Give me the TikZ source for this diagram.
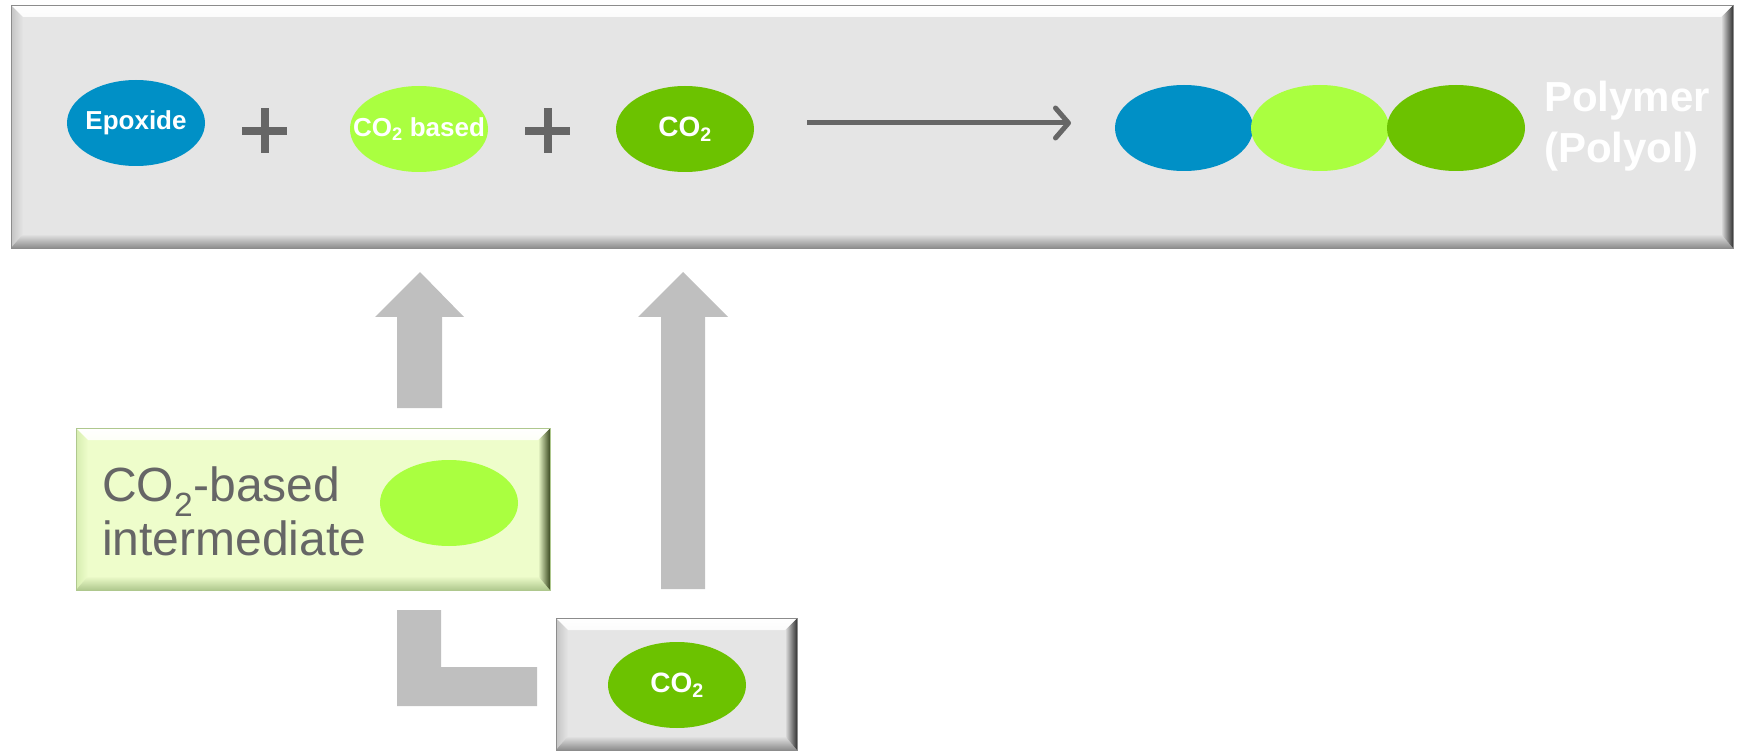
\documentclass[tikz,border=0pt]{standalone}
\usepackage{fontspec}
\setmainfont{Liberation Sans}
\usetikzlibrary{shapes.geometric,arrows.meta,calc}
\definecolor{boxgray}{HTML}{E5E5E5}
\definecolor{edgegray}{HTML}{8C8C8C}
\definecolor{leftgray}{HTML}{C4C4C4}
\definecolor{epoxblue}{HTML}{0090C6}
\definecolor{lightgreen}{HTML}{AAFF40}
\definecolor{darkgreen}{HTML}{6CC200}
\definecolor{intfill}{HTML}{EEFDCB}
\definecolor{intedge}{HTML}{AFC88E}
\definecolor{intleft}{HTML}{D6EDB0}
\definecolor{intright}{HTML}{3B4A22}
\definecolor{arrowgray}{HTML}{BFBFBF}
\definecolor{plusgray}{HTML}{666666}
\definecolor{textgray}{HTML}{666666}
\tikzset{
  blob/.style={ellipse, minimum width=138pt, minimum height=86pt, inner sep=0pt},
  lbl/.style={text=white, inner sep=0pt, font=\bfseries\fontsize{26}{30}\selectfont},
  lblco/.style={text=white, inner sep=0pt, font=\bfseries\fontsize{28}{32}\selectfont},
  panel/.style={rectangle, inner sep=0pt, outer sep=0pt, draw=black!30, line width=0.6pt},
  block/.style={fill=arrowgray},
  plusbar/.style={fill=plusgray},
}
% #1 node, #2 face, #3 left colour, #4 bottom colour, #5 right colour
\newcommand\bevelpanel[5]{%
  \shade[left color=#3, right color=#2] (#1.north west) -- ($(#1.north west)+(12,12)$) -- ($(#1.south west)+(12,-14)$) -- (#1.south west) -- cycle;
  \shade[top color=#2, bottom color=#4] ($(#1.south west)+(12,-14)$) -- ($(#1.south east)+(-12,-14)$) -- (#1.south east) -- (#1.south west) -- cycle;
  \shade[left color=#2, right color=#5] ($(#1.north east)+(-12,12)$) -- (#1.north east) -- (#1.south east) -- ($(#1.south east)+(-12,-14)$) -- cycle;
  \shade[top color=white, bottom color=white!85!#2] (#1.north west) -- (#1.north east) -- ($(#1.north east)+(-12,12)$) -- ($(#1.north west)+(12,12)$) -- cycle;
  \draw[#4, line width=0.6pt] (#1.north west) rectangle (#1.south east);
}
\begin{document}
\begin{tikzpicture}[x=1pt,y=-1pt]
\useasboundingbox (0,0) rectangle (1741,751);

% top panel
\node[panel, fill=boxgray, minimum width=1722pt, minimum height=243pt] (top) at (872,126.5) {};
\bevelpanel{top}{boxgray}{leftgray}{edgegray}{black!80}

\node[blob, fill=epoxblue] (epox) at (136,123) {};
\node[lbl] (epoxt) at (epox) {Epoxide};
\fill[plusbar] (242,127) rectangle (287,135);
\fill[plusbar] (261,108) rectangle (269,153);
\node[blob, fill=lightgreen] (cob) at (419,129) {};
\node[lbl] (cobt) at (cob) {CO\textsubscript{2} based};
\fill[plusbar] (525,127) rectangle (570,135);
\fill[plusbar] (544,108) rectangle (552,153);
\node[blob, fill=darkgreen] (co) at (685,129) {};
\node[lblco] (cot) at (co) {CO\textsubscript{2}};

\coordinate (rs) at (807,123);
\coordinate (re) at (1071,123);
\draw[plusgray, line width=5pt, -{Straight Barb[round, length=13pt, width=30pt, line width=5pt]}] (rs) -- (re);

\node[blob, fill=epoxblue] (p1) at (1184,128) {};
\node[blob, fill=lightgreen] (p2) at (1320,128) {};
\node[blob, fill=darkgreen] (p3) at (1456,128) {};
\node[anchor=north west, inner sep=0pt, align=left, text=white,
      font=\bfseries\fontsize{42}{51}\selectfont] (poly) at (1544,80.5) {Polymer\\(Polyol)};

% block arrows
\fill[block] (397,408) -- (397,317) -- (375,317) -- (420,272) -- (464,317) -- (442,317) -- (442,408) -- cycle;
\fill[block] (661,589) -- (661,317) -- (638,317) -- (683,272) -- (728,317) -- (705,317) -- (705,589) -- cycle;
\fill[block] (397,610) -- (441,610) -- (441,667) -- (537,667) -- (537,706) -- (397,706) -- cycle;

% intermediate panel
\node[panel, fill=intfill, minimum width=474pt, minimum height=162pt] (int) at (313,509) {};
\bevelpanel{int}{intfill}{intleft}{intedge}{intright}
\node[anchor=north west, inner sep=0pt, align=left, text=textgray,
      font=\fontsize{48}{54}\selectfont] (inttext) at (102,467) {CO\textsubscript{2}-based\\intermediate};
\node[blob, fill=lightgreen] (intblob) at (449,503) {};

% CO2 panel
\node[panel, fill=boxgray, minimum width=241pt, minimum height=132pt] (cobox) at (676.5,684) {};
\bevelpanel{cobox}{boxgray}{leftgray}{edgegray}{black!80}
\node[blob, fill=darkgreen] (co2) at (677,685) {};
\node[lblco] (co2t) at (co2) {CO\textsubscript{2}};
\end{tikzpicture}
\end{document}
